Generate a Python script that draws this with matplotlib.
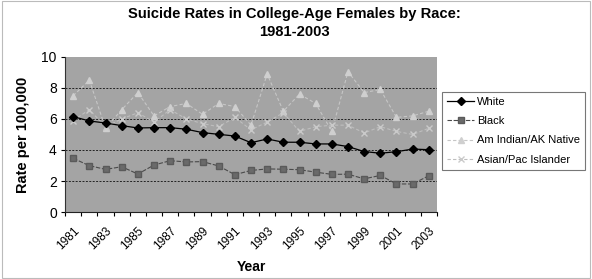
import matplotlib
matplotlib.use("Agg")
import matplotlib.pyplot as plt
import numpy as np

plt.rcParams['font.family'] = ['Liberation Sans', 'DejaVu Sans']

years = list(range(1981, 2004))
white = [6.15, 5.87, 5.74, 5.57, 5.42, 5.44, 5.44, 5.34, 5.12, 5.01, 4.9, 4.47,
         4.71, 4.5, 4.5, 4.39, 4.39, 4.22, 3.9, 3.79, 3.89, 4.06, 4.02]
black = [3.46, 2.99, 2.75, 2.92, 2.45, 3.03, 3.31, 3.23, 3.25, 2.97, 2.41, 2.68,
         2.78, 2.76, 2.73, 2.57, 2.43, 2.44, 2.14, 2.36, 1.81, 1.81, 2.34]
am_indian = [7.5, 8.5, 5.4, 6.6, 7.7, 6.2, 6.8, 7.0, 6.3, 7.0, 6.8, 5.6,
             8.9, 6.5, 7.6, 7.0, 5.2, 9.05, 7.7, 7.9, 6.1, 6.2, 6.5]
asian = [5.9, 6.6, 5.5, 6.0, 6.4, 5.8, 6.6, 6.0, 5.7, 5.5, 6.1, 5.3,
         5.8, 6.4, 5.2, 5.5, 5.6, 5.6, 5.1, 5.5, 5.2, 5.0, 5.4]
series_names = ["White", "Black", "Am Indian/AK Native", "Asian/Pac Islander"]
tick_labels = [str(y) for y in years[::2]]

fig = plt.figure(figsize=(5.92, 2.79), dpi=100)
ax = fig.add_axes([0.110, 0.240, 0.628, 0.556])
ax.set_facecolor('#a4a4a4')

x = np.arange(len(years))
ax.plot(x, am_indian, color='#c6c6c6', lw=0.8, ls=(0, (3, 2)), marker='^', ms=4,
        mfc='#cfcfcf', mec='#cfcfcf', label=series_names[2], zorder=2)
ax.plot(x, asian, color='#bebebe', lw=0.8, ls=(0, (3, 2)), marker='x', ms=4,
        mec='#cacaca', label=series_names[3], zorder=2)
ax.plot(x, white, color='black', lw=0.9, marker='D', ms=4, mfc='black', mec='black',
        label=series_names[0], zorder=4)
ax.plot(x, black, color='#4a4a4a', lw=0.8, ls=(0, (4, 1.5)), marker='s', ms=3.8,
        mfc='#6a6a6a', mec='#5a5a5a', label=series_names[1], zorder=3)

ax.set_xlim(-0.5, len(years) - 0.5)
ax.set_ylim(0, 10)
ax.set_yticks([0, 2, 4, 6, 8, 10])
ax.tick_params(axis='y', labelsize=10, length=3, width=0.8, pad=3)
ax.set_xticks(x[::2])
ax.set_xticklabels(tick_labels, rotation=45, ha='right', rotation_mode='anchor',
                   fontsize=8.6)
ax.tick_params(axis='x', length=0, pad=9)
ax.set_xticks(np.arange(-0.5, len(years), 1), minor=True)
ax.tick_params(axis='x', which='minor', length=3, width=0.8)
for y in [2, 4, 6, 8]:
    ax.axhline(y, color='#222222', lw=0.7, ls=(0, (2, 1.5)), zorder=1)
for s in ['top', 'right']:
    ax.spines[s].set_visible(False)
ax.spines['left'].set_color('#333333')
ax.spines['bottom'].set_color('#222222')

ax.set_ylabel('Rate per 100,000', fontsize=10.5, fontweight='bold', labelpad=8)
ax.set_xlabel('Year', fontsize=10, fontweight='bold', labelpad=6)
fig.text(0.498, 0.950, 'Suicide Rates in College-Age Females by Race:', ha='center',
         va='center', fontsize=10.6, fontweight='bold')
fig.text(0.498, 0.885, '1981-2003', ha='center', va='center', fontsize=10.6,
         fontweight='bold')

handles, labels = ax.get_legend_handles_labels()
order = [2, 3, 0, 1]
leg = fig.legend([handles[i] for i in order], [labels[i] for i in order],
                 loc='upper left', bbox_to_anchor=(0.746, 0.672), fontsize=8,
                 frameon=True, fancybox=False, edgecolor='#555555', borderpad=0.45,
                 labelspacing=0.85, handlelength=2.5, handletextpad=0.25,
                 borderaxespad=0)
leg.get_frame().set_linewidth(0.8)

fig.patches.append(plt.Rectangle((0.004, 0.005), 0.992, 0.99, transform=fig.transFigure,
                                 fill=False, edgecolor='#bbbbbb', lw=0.8))
fig.savefig('out.png', dpi=100)
